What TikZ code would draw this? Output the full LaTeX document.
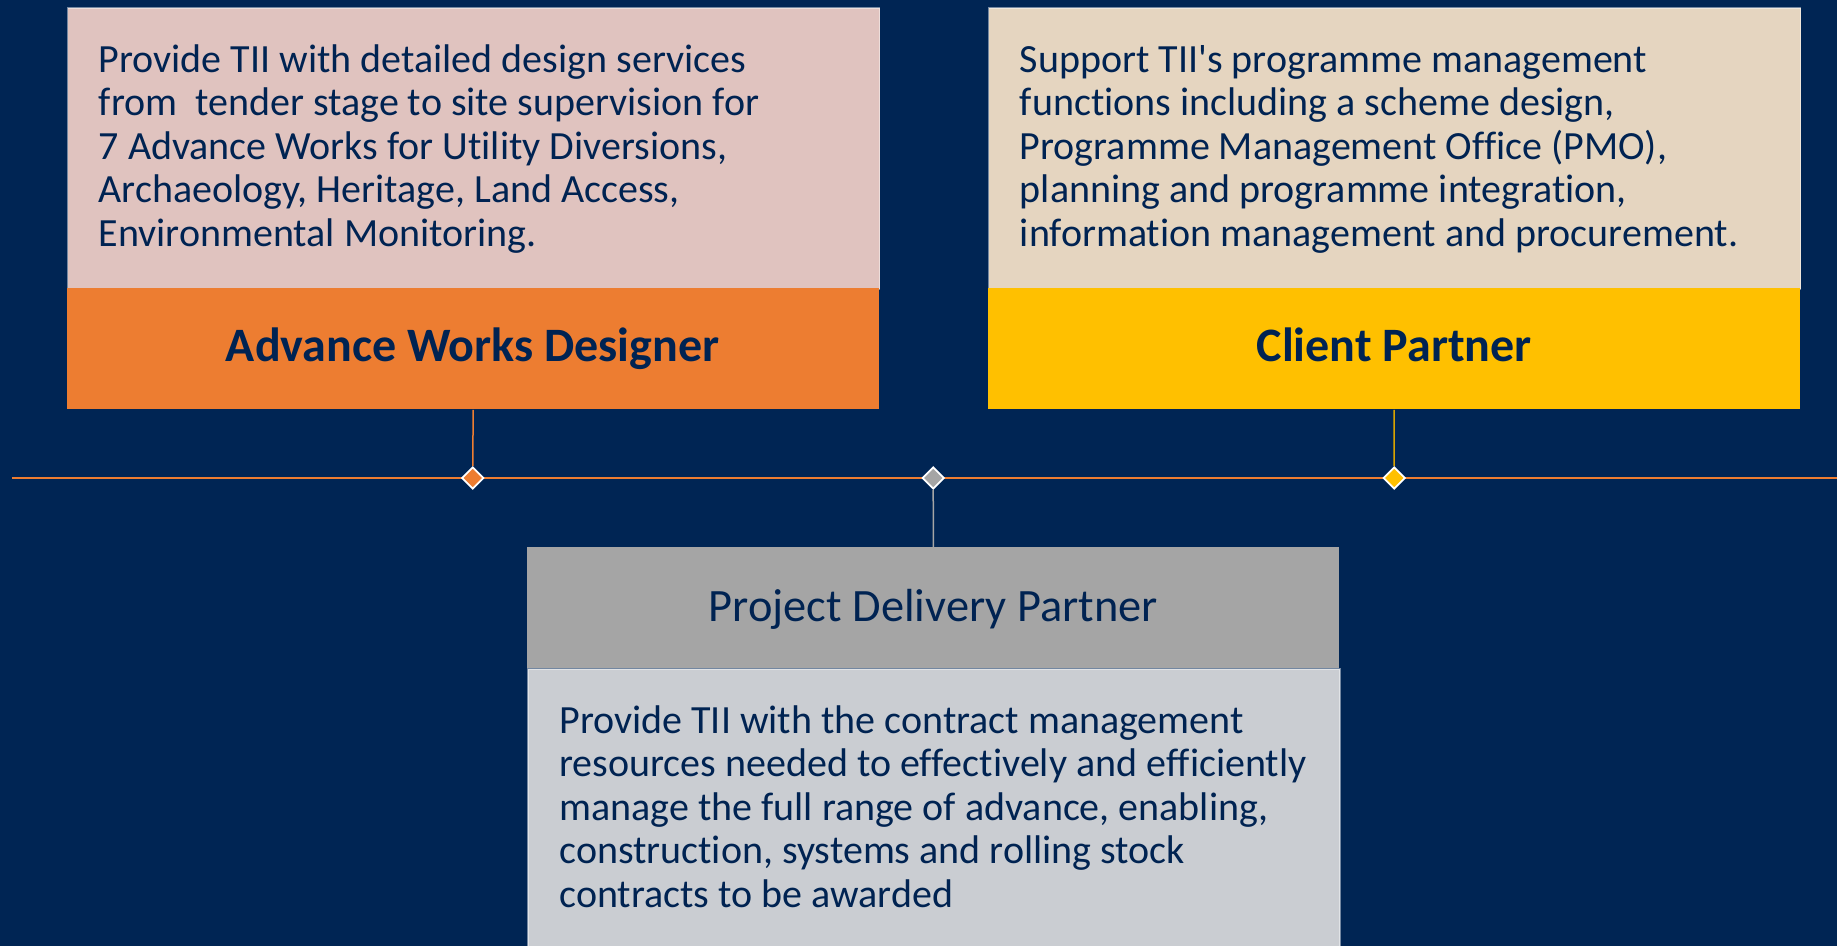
\documentclass[tikz,border=0pt]{standalone}
\usepackage{fontspec}
\setmainfont{Carlito}[Ligatures={NoCommon}]
\usetikzlibrary{shapes.geometric}
\definecolor{navy}{HTML}{002554}
\definecolor{txt}{HTML}{002352}
\definecolor{pinkbox}{HTML}{E0C3BF}
\definecolor{orangebox}{HTML}{ED7D31}
\definecolor{beigebox}{HTML}{E5D5C0}
\definecolor{yellowbox}{HTML}{FFC000}
\definecolor{grayhead}{HTML}{A5A5A5}
\definecolor{graybox}{HTML}{CACDD2}
\newcommand{\firststrut}{\rule{0pt}{16pt}}
\begin{document}
\begin{tikzpicture}[x=0.5pt,y=-0.5pt,
  panel/.style={rectangle, inner sep=0pt, anchor=north west, minimum width=406pt},
  lightpanel/.style={panel, draw=white, draw opacity=0.45, line width=0.8pt, minimum height=140.5pt},
  headpanel/.style={panel, minimum height=60.5pt},
  body/.style={inner sep=0pt, anchor=north west, align=left, text=txt, font=\fontsize{20}{21.75}\selectfont},
  title/.style={inner sep=0pt, anchor=base, text=txt, font=\fontsize{23.2}{26}\selectfont},
  boldtitle/.style={title, font=\fontsize{24}{28}\selectfont\bfseries},
  gem/.style={diamond, aspect=1, inner sep=0pt, minimum width=11pt, minimum height=11pt, draw=white, line width=0.9pt},
  stem/.style={line width=0.75pt}
]
\fill[navy] (0,0) rectangle (1837,946);
\useasboundingbox (0,0) rectangle (1837,946);

% Advance Works Designer
\node[lightpanel, fill=pinkbox] (awdbox) at (66.8,7) {};
\node[headpanel, fill=orangebox] (awdhead) at (66.8,288) {};
\node[body] (awdtxt) at (98.4,39.7) {\firststrut Provide TII with detailed design services\\from\ \ tender stage to site supervision for\\7 Advance Works for Utility Diversions,\\Archaeology, Heritage, Land Access,\\Environmental Monitoring.};
\node[boldtitle] (awdtitle) at (472.75,361.7) {Advance Works Designer};

% Client Partner
\node[lightpanel, fill=beigebox] (cpbox) at (987.7,7) {};
\node[headpanel, fill=yellowbox] (cphead) at (987.7,288) {};
\node[body] (cptxt) at (1019.5,39.7) {\firststrut Support TII\textquotesingle s programme management\\functions including a scheme design,\\Programme Management Office (PMO),\\planning and programme integration,\\information management and procurement.};
\node[boldtitle] (cptitle) at (1394.2,361.7) {Client Partner};

% Project Delivery Partner
\node[headpanel, fill=grayhead] (pdphead) at (527,547) {};
\node[lightpanel, fill=graybox, minimum height=150pt] (pdpbox) at (527,668) {};
\node[title] (pdptitle) at (933.2,621.7) {Project Delivery Partner};
\node[body] (pdptxt) at (559,701) {\firststrut Provide TII with the contract management\\resources needed to effectively and efficiently\\manage the full range of advance, enabling,\\construction, systems and rolling stock\\contracts to be awarded};

% timeline
\coordinate (lineL) at (12,478);
\coordinate (lineR) at (1837,478);
\draw[orangebox, line width=1.35pt] (lineL) -- (lineR);

\node[gem, fill=orangebox] (d1) at (472.75,478) {};
\node[gem, fill=grayhead] (d2) at (933.2,478) {};
\node[gem, fill=yellowbox] (d3) at (1394.2,478) {};

\draw[stem, orangebox] (awdhead.south) -- (d1.north);
\draw[stem, yellowbox!85!black] (cphead.south) -- (d3.north);
\draw[stem, grayhead] (d2.south) -- (pdphead.north);
\end{tikzpicture}
\end{document}
